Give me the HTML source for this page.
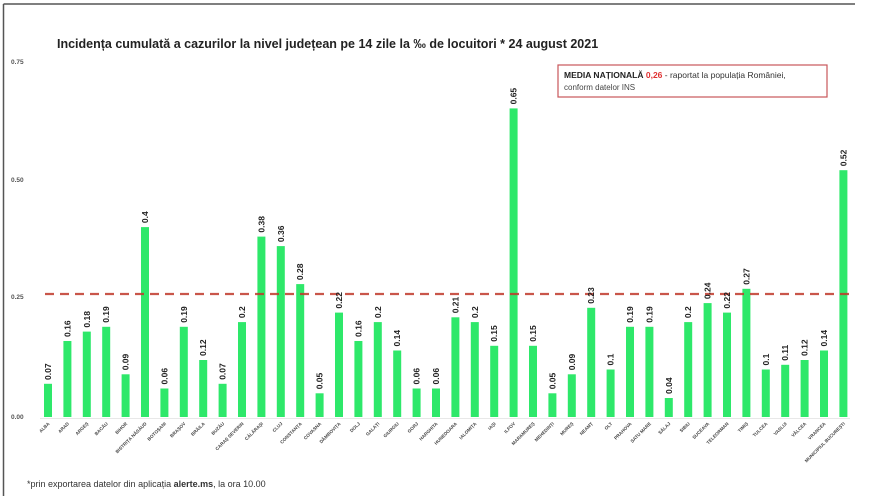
<!DOCTYPE html>
<html><head><meta charset="utf-8"><style>
html,body{margin:0;padding:0;background:#fff;}
svg{display:block;font-family:"Liberation Sans",sans-serif;}
.v{font-size:8.5px;fill:#222;font-weight:bold;}
.xl{font-size:4.6px;fill:#444;font-weight:bold;}
.yl{font-size:6.5px;fill:#555;font-weight:bold;}
</style></head><body>
<svg width="880" height="503" viewBox="0 0 880 503">
<rect width="880" height="503" fill="#fff"/>
<line x1="3.5" y1="4" x2="855" y2="4" stroke="#555" stroke-width="1.5"/>
<line x1="3.5" y1="4" x2="3.5" y2="496" stroke="#555" stroke-width="1.5"/>
<text x="57" y="48" font-size="12.5" font-weight="bold" fill="#222">Incidența cumulată a cazurilor la nivel județean pe 14 zile la ‰ de locuitori * 24 august 2021</text>
<text class="yl" x="11" y="64">0.75</text>
<text class="yl" x="11" y="182">0.50</text>
<text class="yl" x="11" y="299">0.25</text>
<text class="yl" x="11" y="419">0.00</text>
<line x1="40" y1="418.5" x2="850" y2="418.5" stroke="#e8e8e8" stroke-width="1"/>
<rect x="558" y="65" width="269" height="32" fill="#fff" stroke="#c9565a" stroke-width="1.2"/>
<text x="564" y="78" font-size="8.5" fill="#333"><tspan font-weight="bold" fill="#222">MEDIA NAȚIONALĂ </tspan><tspan font-weight="bold" fill="#e03030">0,26</tspan> - raportat la populația României,</text>
<text x="564" y="90" font-size="8" fill="#444">conform datelor INS</text>
<g fill="#2ee86a">
<rect x="44" y="383.8" width="8" height="33.2"/>
<rect x="63.4" y="341" width="8" height="76"/>
<rect x="82.8" y="331.6" width="8" height="85.4"/>
<rect x="102.2" y="326.8" width="8" height="90.2"/>
<rect x="121.6" y="374.3" width="8" height="42.7"/>
<rect x="141" y="227.1" width="8" height="189.9"/>
<rect x="160.4" y="388.5" width="8" height="28.5"/>
<rect x="179.8" y="326.8" width="8" height="90.2"/>
<rect x="199.2" y="360" width="8" height="57"/>
<rect x="218.6" y="383.8" width="8" height="33.2"/>
<rect x="238" y="322.1" width="8" height="94.9"/>
<rect x="257.4" y="236.6" width="8" height="180.4"/>
<rect x="276.8" y="246.1" width="8" height="170.9"/>
<rect x="296.2" y="284.1" width="8" height="132.9"/>
<rect x="315.6" y="393.3" width="8" height="23.7"/>
<rect x="335" y="312.6" width="8" height="104.4"/>
<rect x="354.4" y="341" width="8" height="76"/>
<rect x="373.8" y="322.1" width="8" height="94.9"/>
<rect x="393.2" y="350.5" width="8" height="66.5"/>
<rect x="412.6" y="388.5" width="8" height="28.5"/>
<rect x="432" y="388.5" width="8" height="28.5"/>
<rect x="451.4" y="317.3" width="8" height="99.7"/>
<rect x="470.8" y="322.1" width="8" height="94.9"/>
<rect x="490.2" y="345.8" width="8" height="71.2"/>
<rect x="509.6" y="108.4" width="8" height="308.6"/>
<rect x="529" y="345.8" width="8" height="71.2"/>
<rect x="548.4" y="393.3" width="8" height="23.7"/>
<rect x="567.8" y="374.3" width="8" height="42.7"/>
<rect x="587.2" y="307.8" width="8" height="109.2"/>
<rect x="606.6" y="369.5" width="8" height="47.5"/>
<rect x="626" y="326.8" width="8" height="90.2"/>
<rect x="645.4" y="326.8" width="8" height="90.2"/>
<rect x="664.8" y="398" width="8" height="19"/>
<rect x="684.2" y="322.1" width="8" height="94.9"/>
<rect x="703.6" y="303.1" width="8" height="113.9"/>
<rect x="723" y="312.6" width="8" height="104.4"/>
<rect x="742.4" y="288.8" width="8" height="128.2"/>
<rect x="761.8" y="369.5" width="8" height="47.5"/>
<rect x="781.2" y="364.8" width="8" height="52.2"/>
<rect x="800.6" y="360" width="8" height="57"/>
<rect x="820" y="350.5" width="8" height="66.5"/>
<rect x="839.4" y="170.2" width="8" height="246.8"/>
</g>
<line x1="45" y1="294" x2="850" y2="294" stroke="#c0392b" stroke-width="2.2" stroke-dasharray="9,6" opacity="0.85"/>
<g class="v">
<text transform="translate(51,380) rotate(-90)">0.07</text>
<text transform="translate(70.4,337) rotate(-90)">0.16</text>
<text transform="translate(89.8,327.6) rotate(-90)">0.18</text>
<text transform="translate(109.2,322.8) rotate(-90)">0.19</text>
<text transform="translate(128.6,370.3) rotate(-90)">0.09</text>
<text transform="translate(148,223.1) rotate(-90)">0.4</text>
<text transform="translate(167.4,384.5) rotate(-90)">0.06</text>
<text transform="translate(186.8,322.8) rotate(-90)">0.19</text>
<text transform="translate(206.2,356) rotate(-90)">0.12</text>
<text transform="translate(225.6,379.8) rotate(-90)">0.07</text>
<text transform="translate(245,318.1) rotate(-90)">0.2</text>
<text transform="translate(264.4,232.6) rotate(-90)">0.38</text>
<text transform="translate(283.8,242.1) rotate(-90)">0.36</text>
<text transform="translate(303.2,280.1) rotate(-90)">0.28</text>
<text transform="translate(322.6,389.3) rotate(-90)">0.05</text>
<text transform="translate(342,308.6) rotate(-90)">0.22</text>
<text transform="translate(361.4,337) rotate(-90)">0.16</text>
<text transform="translate(380.8,318.1) rotate(-90)">0.2</text>
<text transform="translate(400.2,346.5) rotate(-90)">0.14</text>
<text transform="translate(419.6,384.5) rotate(-90)">0.06</text>
<text transform="translate(439,384.5) rotate(-90)">0.06</text>
<text transform="translate(458.4,313.3) rotate(-90)">0.21</text>
<text transform="translate(477.8,318.1) rotate(-90)">0.2</text>
<text transform="translate(497.2,341.8) rotate(-90)">0.15</text>
<text transform="translate(516.6,104.4) rotate(-90)">0.65</text>
<text transform="translate(536,341.8) rotate(-90)">0.15</text>
<text transform="translate(555.4,389.3) rotate(-90)">0.05</text>
<text transform="translate(574.8,370.3) rotate(-90)">0.09</text>
<text transform="translate(594.2,303.8) rotate(-90)">0.23</text>
<text transform="translate(613.6,365.5) rotate(-90)">0.1</text>
<text transform="translate(633,322.8) rotate(-90)">0.19</text>
<text transform="translate(652.4,322.8) rotate(-90)">0.19</text>
<text transform="translate(671.8,394) rotate(-90)">0.04</text>
<text transform="translate(691.2,318.1) rotate(-90)">0.2</text>
<text transform="translate(710.6,299.1) rotate(-90)">0.24</text>
<text transform="translate(730,308.6) rotate(-90)">0.22</text>
<text transform="translate(749.4,284.8) rotate(-90)">0.27</text>
<text transform="translate(768.8,365.5) rotate(-90)">0.1</text>
<text transform="translate(788.2,360.8) rotate(-90)">0.11</text>
<text transform="translate(807.6,356) rotate(-90)">0.12</text>
<text transform="translate(827,346.5) rotate(-90)">0.14</text>
<text transform="translate(846.4,166.2) rotate(-90)">0.52</text>
</g>
<g class="xl" text-anchor="end">
<text transform="translate(50,424) rotate(-45)">ALBA</text>
<text transform="translate(69.4,424) rotate(-45)">ARAD</text>
<text transform="translate(88.8,424) rotate(-45)">ARGEȘ</text>
<text transform="translate(108.2,424) rotate(-45)">BACĂU</text>
<text transform="translate(127.6,424) rotate(-45)">BIHOR</text>
<text transform="translate(147,424) rotate(-45)">BISTRIȚA NĂSĂUD</text>
<text transform="translate(166.4,424) rotate(-45)">BOTOȘANI</text>
<text transform="translate(185.8,424) rotate(-45)">BRAȘOV</text>
<text transform="translate(205.2,424) rotate(-45)">BRĂILA</text>
<text transform="translate(224.6,424) rotate(-45)">BUZĂU</text>
<text transform="translate(244,424) rotate(-45)">CARAȘ SEVERIN</text>
<text transform="translate(263.4,424) rotate(-45)">CĂLĂRAȘI</text>
<text transform="translate(282.8,424) rotate(-45)">CLUJ</text>
<text transform="translate(302.2,424) rotate(-45)">CONSTANȚA</text>
<text transform="translate(321.6,424) rotate(-45)">COVASNA</text>
<text transform="translate(341,424) rotate(-45)">DÂMBOVIȚA</text>
<text transform="translate(360.4,424) rotate(-45)">DOLJ</text>
<text transform="translate(379.8,424) rotate(-45)">GALAȚI</text>
<text transform="translate(399.2,424) rotate(-45)">GIURGIU</text>
<text transform="translate(418.6,424) rotate(-45)">GORJ</text>
<text transform="translate(438,424) rotate(-45)">HARGHITA</text>
<text transform="translate(457.4,424) rotate(-45)">HUNEDOARA</text>
<text transform="translate(476.8,424) rotate(-45)">IALOMIȚA</text>
<text transform="translate(496.2,424) rotate(-45)">IAȘI</text>
<text transform="translate(515.6,424) rotate(-45)">ILFOV</text>
<text transform="translate(535,424) rotate(-45)">MARAMUREȘ</text>
<text transform="translate(554.4,424) rotate(-45)">MEHEDINȚI</text>
<text transform="translate(573.8,424) rotate(-45)">MUREȘ</text>
<text transform="translate(593.2,424) rotate(-45)">NEAMȚ</text>
<text transform="translate(612.6,424) rotate(-45)">OLT</text>
<text transform="translate(632,424) rotate(-45)">PRAHOVA</text>
<text transform="translate(651.4,424) rotate(-45)">SATU MARE</text>
<text transform="translate(670.8,424) rotate(-45)">SĂLAJ</text>
<text transform="translate(690.2,424) rotate(-45)">SIBIU</text>
<text transform="translate(709.6,424) rotate(-45)">SUCEAVA</text>
<text transform="translate(729,424) rotate(-45)">TELEORMAN</text>
<text transform="translate(748.4,424) rotate(-45)">TIMIȘ</text>
<text transform="translate(767.8,424) rotate(-45)">TULCEA</text>
<text transform="translate(787.2,424) rotate(-45)">VASLUI</text>
<text transform="translate(806.6,424) rotate(-45)">VÂLCEA</text>
<text transform="translate(826,424) rotate(-45)">VRANCEA</text>
<text transform="translate(845.4,424) rotate(-45)">MUNICIPIUL BUCUREȘTI</text>
</g>
<text x="27" y="487" font-size="9" fill="#333">*prin exportarea datelor din aplicația <tspan font-weight="bold">alerte.ms</tspan>, la ora 10.00</text>
</svg>
</body></html>
